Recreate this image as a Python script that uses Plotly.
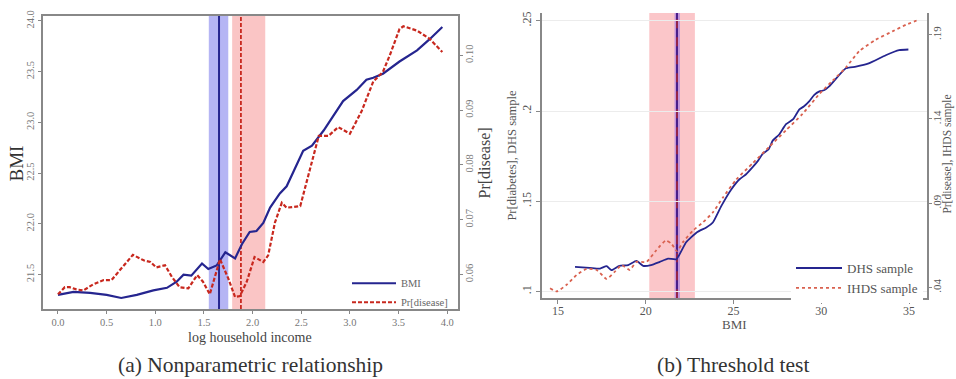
import plotly.graph_objects as go

# ---------- Panel (a) data ----------
inc_bmi = [0.0, 0.16, 0.33, 0.5, 0.65, 0.81, 0.98, 1.12, 1.22, 1.29, 1.37, 1.48, 1.545, 1.63, 1.72, 1.82,
           1.89, 1.97, 2.04, 2.11, 2.18, 2.28, 2.35, 2.52, 2.61, 2.73, 2.93, 3.07, 3.17, 3.24, 3.34, 3.51,
           3.69, 3.82, 3.95]
bmi_vals = [21.30, 21.33, 21.32, 21.30, 21.27, 21.30, 21.345, 21.37, 21.43, 21.50, 21.49, 21.61, 21.555,
            21.59, 21.72, 21.66, 21.80, 21.92, 21.93, 22.01, 22.16, 22.30, 22.37, 22.72, 22.77, 22.92,
            23.21, 23.32, 23.42, 23.44, 23.48, 23.60, 23.71, 23.82, 23.94]

inc_pr = [0.0, 0.07, 0.12, 0.19, 0.26, 0.36, 0.47, 0.55, 0.65, 0.77, 0.88, 0.95, 1.01, 1.10, 1.17, 1.25,
          1.34, 1.43, 1.49, 1.56, 1.665, 1.75, 1.82, 1.87, 1.94, 2.02, 2.11, 2.16, 2.23, 2.30, 2.35, 2.49,
          2.57, 2.68, 2.78, 2.88, 3.00, 3.12, 3.24, 3.34, 3.41, 3.51, 3.55, 3.69, 3.82, 3.95]
pr_vals = [0.0564, 0.0577, 0.0577, 0.0573, 0.0571, 0.0582, 0.0590, 0.0590, 0.0611, 0.0636, 0.0626,
           0.0623, 0.0613, 0.0617, 0.0596, 0.0577, 0.0575, 0.0599, 0.0587, 0.0564, 0.0628, 0.0593,
           0.0559, 0.0561, 0.0587, 0.0632, 0.0623, 0.0635, 0.0695, 0.0731, 0.0722, 0.0725, 0.0779,
           0.0853, 0.0853, 0.0869, 0.0857, 0.0898, 0.0952, 0.0970, 0.1000, 0.1048, 0.1053, 0.1045,
           0.1030, 0.1006]

a_blue_band = [1.55, 1.75]
a_blue_line = 1.655
a_red_band = [1.79, 2.13]
a_red_line = 1.88

a_xticks = [0.0, 0.5, 1.0, 1.5, 2.0, 2.5, 3.0, 3.5, 4.0]
a_yticks = [21.5, 22.0, 22.5, 23.0, 23.5, 24.0]
a_y2ticks = [0.06, 0.07, 0.08, 0.09, 0.10]

# ---------- Panel (b) data ----------
bmi_dhs = [15.97, 16.8, 17.4, 17.77, 18.05, 18.5, 19.0, 19.47, 19.85, 20.3, 20.8, 21.27, 21.74, 22.3,
           22.9, 23.45, 23.82, 24.3, 24.86, 25.34, 25.7, 26.1, 26.4, 26.67, 27.0, 27.23, 27.6, 27.99,
           28.4, 28.75, 29.0, 29.32, 29.6, 29.89, 30.15, 30.45, 31.4, 31.97, 32.7, 33.67, 34.43, 34.96]
dhs_vals = [0.1136, 0.1131, 0.1127, 0.1140, 0.1118, 0.1142, 0.1146, 0.1169, 0.1142, 0.1146, 0.1164,
            0.1182, 0.1178, 0.1273, 0.1327, 0.1355, 0.1382, 0.1473, 0.1564, 0.1622, 0.1648, 0.1690,
            0.1725, 0.1764, 0.1788, 0.1836, 0.1870, 0.1927, 0.1955, 0.2009, 0.2025, 0.2055, 0.2090,
            0.2109, 0.2115, 0.2137, 0.2237, 0.2246, 0.2264, 0.2309, 0.2337, 0.2341]

bmi_ihds = [14.55, 14.93, 15.49, 16.06, 16.63, 17.2, 17.77, 18.24, 18.62, 19.09, 19.47, 20.04, 20.6,
            21.14, 21.46, 21.78, 22.12, 22.69, 23.26, 23.82, 24.39, 25.15, 26.1, 27.05, 27.99, 28.94,
            29.89, 30.64, 31.4, 32.16, 33.1, 34.05, 34.81, 35.53]
ihds_vals = [0.0396, 0.0377, 0.0416, 0.0474, 0.0510, 0.0504, 0.0451, 0.0494, 0.0533, 0.0504, 0.0552,
             0.0552, 0.0621, 0.0679, 0.0660, 0.0615, 0.0669, 0.0738, 0.0787, 0.0845, 0.0933, 0.1040,
             0.1138, 0.1236, 0.1333, 0.1431, 0.1548, 0.1626, 0.1705, 0.1802, 0.1870, 0.1919, 0.1958,
             0.1988]

b_red_band = [20.2, 22.8]
b_blue_band = [21.64, 21.95]
b_line = 21.78

b_xticks = [15, 20, 25, 30, 35]
b_yticks = [0.10, 0.15, 0.20, 0.25]
b_yticklabels = [".1", ".15", ".2", ".25"]
b_y2ticks = [0.04, 0.09, 0.14, 0.19]
b_y2ticklabels = [".04", ".09", ".14", ".19"]

# ---------- styling ----------
W, H = 956, 379
FONT = "Liberation Serif"
NAVY = "#25258f"
RED = "#c8281e"
SALMON = "#d9614f"
TICKC = "#777777"
AXC = "#888888"

def px(x):
    return x / W

def py(y):
    return 1 - y / H

fig = go.Figure()

fig.add_trace(go.Scatter(x=inc_bmi, y=bmi_vals, mode="lines", name="BMI",
                         line=dict(color=NAVY, width=2.2),
                         xaxis="x", yaxis="y", legend="legend"))
fig.add_trace(go.Scatter(x=inc_pr, y=pr_vals, mode="lines", name="Pr[disease]",
                         line=dict(color=RED, width=2.2, dash="4px,2px"),
                         xaxis="x", yaxis="y2", legend="legend"))
fig.add_trace(go.Scatter(x=bmi_dhs, y=dhs_vals, mode="lines", name="DHS sample",
                         line=dict(color=NAVY, width=1.8, shape="spline", smoothing=0.5),
                         xaxis="x2", yaxis="y3", legend="legend2"))
fig.add_trace(go.Scatter(x=bmi_ihds, y=ihds_vals, mode="lines", name="IHDS sample",
                         line=dict(color=SALMON, width=1.8, dash="dot", shape="spline", smoothing=0.5),
                         xaxis="x2", yaxis="y4", legend="legend2"))

shapes = [
    dict(type="rect", xref="x", yref="y domain", x0=a_blue_band[0], x1=a_blue_band[1], y0=0, y1=1,
         fillcolor="rgba(120,120,235,0.55)", line_width=0, layer="below"),
    dict(type="rect", xref="x", yref="y domain", x0=a_red_band[0], x1=a_red_band[1], y0=0, y1=1,
         fillcolor="rgba(245,150,150,0.55)", line_width=0, layer="below"),
    dict(type="line", xref="x", yref="y domain", x0=a_blue_line, x1=a_blue_line, y0=0, y1=1,
         line=dict(color=NAVY, width=2), layer="below"),
    dict(type="line", xref="x", yref="y domain", x0=a_red_line, x1=a_red_line, y0=0, y1=1,
         line=dict(color=RED, width=1.8, dash="4px,2px"), layer="below"),
    dict(type="rect", xref="x2", yref="y3 domain", x0=b_red_band[0], x1=b_red_band[1], y0=0, y1=1,
         fillcolor="rgba(248,160,165,0.6)", line_width=0, layer="below"),
    dict(type="rect", xref="x2", yref="y3 domain", x0=b_blue_band[0], x1=b_blue_band[1], y0=0, y1=1,
         fillcolor="rgba(150,110,230,0.55)", line_width=0, layer="below"),
    dict(type="line", xref="x2", yref="y3 domain", x0=b_line, x1=b_line, y0=0, y1=1,
         line=dict(color="#4a1f8a", width=2), layer="below"),
    dict(type="line", xref="x2", yref="y3 domain", x0=b_line, x1=b_line, y0=0, y1=1,
         line=dict(color=RED, width=1.2, dash="dash"), layer="below"),
]

tickfont_a = dict(family=FONT, size=10.5, color=TICKC)
tickfont_b = dict(family=FONT, size=12, color="#555555")

fig.update_layout(
    width=W, height=H,
    margin=dict(l=0, r=0, t=0, b=0),
    paper_bgcolor="white", plot_bgcolor="rgba(0,0,0,0)",
    font=dict(family=FONT),
    shapes=shapes,
    xaxis=dict(domain=[px(43), px(458)], range=[-0.154, 4.111], anchor="y",
               tickvals=a_xticks, ticktext=[f"{v:.1f}" for v in a_xticks],
               tickfont=tickfont_a, showline=True, linecolor=AXC, linewidth=1.5, mirror=True,
               ticks="outside", ticklen=3, tickcolor=AXC, showgrid=False, zeroline=False),
    yaxis=dict(domain=[py(308), py(10)], range=[21.16, 24.05], anchor="x",
               tickvals=a_yticks, ticktext=[f"{v:.1f}" for v in a_yticks], tickangle=-90,
               tickfont=tickfont_a, showline=True, linecolor=AXC, linewidth=1.5,
               ticks="outside", ticklen=3, tickcolor=AXC, showgrid=False, zeroline=False),
    yaxis2=dict(overlaying="y", side="right", anchor="x", range=[0.0537, 0.1072],
                tickvals=a_y2ticks, ticktext=[f"{v:.2f}" for v in a_y2ticks], tickangle=-90,
                tickfont=tickfont_a, showline=True, linecolor=AXC, linewidth=1.5, ticklabelstandoff=-2,
                ticks="outside", ticklen=3, tickcolor=AXC, showgrid=False, zeroline=False),
    xaxis2=dict(domain=[px(542), px(927)], range=[14.09, 36.02], anchor="y3",
                tickvals=b_xticks, ticktext=[str(v) for v in b_xticks], tickfont=tickfont_b,
                showline=True, linecolor=AXC, linewidth=1.5, ticklabelstandoff=-3,
                ticks="outside", ticklen=4, tickcolor=AXC, showgrid=False, zeroline=False),
    yaxis3=dict(domain=[py(297), py(7)], range=[0.0962, 0.2544], anchor="x2",
                tickvals=b_yticks, ticktext=b_yticklabels, tickangle=-90, tickfont=tickfont_b,
                showline=True, linecolor=AXC, linewidth=1.5,
                ticks="outside", ticklen=4, tickcolor=AXC,
                showgrid=True, gridcolor="#ececec", gridwidth=1, zeroline=False),
    yaxis4=dict(overlaying="y3", side="right", anchor="x2", range=[0.0336, 0.2029],
                tickvals=b_y2ticks, ticktext=b_y2ticklabels, tickangle=-90,
                tickfont=dict(family=FONT, size=11, color="#555555"),
                showline=True, linecolor=AXC, linewidth=1.5, ticklabelstandoff=-4,
                ticks="outside", ticklen=3, tickcolor=AXC, showgrid=False, zeroline=False),
    legend=dict(x=px(347), y=py(267), xanchor="left", yanchor="top",
                bgcolor="rgba(255,255,255,0)", font=dict(family=FONT, size=10.5, color="#666666"),
                tracegroupgap=0, itemwidth=44),
    legend2=dict(x=px(791), y=py(251), xanchor="left", yanchor="top",
                 bgcolor="white", font=dict(family=FONT, size=13, color="#555555"),
                 tracegroupgap=0, itemwidth=46),
    showlegend=True,
)

annotations = [
    dict(text="BMI", x=px(16), y=py(160), textangle=-90, font=dict(size=19, color="#333333")),
    dict(text="Pr[disease]", x=px(484), y=py(160), textangle=-90, font=dict(size=16, color="#444444")),
    dict(text="log household income", x=px(250), y=py(337), font=dict(size=14, color="#444444")),
    dict(text="(a) Nonparametric relationship", x=px(250), y=py(365), font=dict(size=21.5, color="#333333")),
    dict(text="Pr[diabetes], DHS sample", x=px(512), y=py(151), textangle=-90, font=dict(size=12.5, color="#555555")),
    dict(text="Pr[disease], IHDS sample", x=px(948), y=py(151), textangle=-90, font=dict(size=11.5, color="#555555")),
    dict(text="BMI", x=px(734), y=py(324), font=dict(size=13, color="#555555")),
    dict(text="(b) Threshold test", x=px(733), y=py(365), font=dict(size=21.5, color="#333333")),
]
for a in annotations:
    a.update(xref="paper", yref="paper", showarrow=False, xanchor="center", yanchor="middle")
    a["font"]["family"] = FONT
fig.update_layout(annotations=annotations)

fig.write_html("out.html", config={"displayModeBar": False},
               post_script="document.body.style.margin='0px';")
